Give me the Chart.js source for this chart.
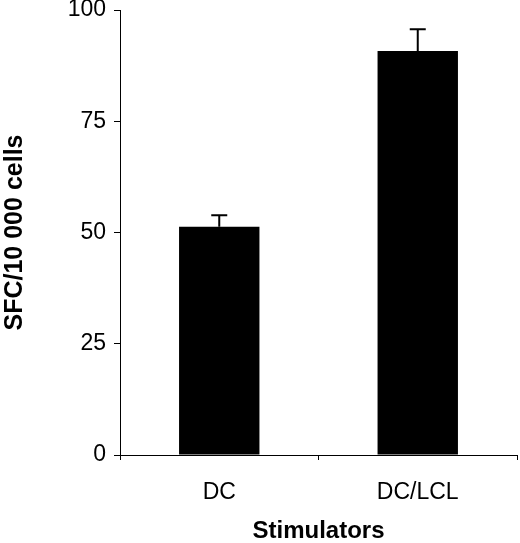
<!DOCTYPE html>
<html>
<head>
<meta charset="utf-8">
<script src="https://cdn.jsdelivr.net/npm/chart.js@4"></script>
<style>
html,body{margin:0;padding:0;background:#fff;}
#wrap{width:520px;height:543px;position:relative;}
</style>
</head>
<body>
<div id="wrap"><canvas id="c" width="520" height="543"></canvas></div>
<script>
const categories = ["DC", "DC/LCL"];
const values = [51.3, 90.8];
const errors = [2.6, 4.9];
const yTicks = [0, 25, 50, 75, 100];
const yTitle = "SFC/10 000 cells";
const xTitle = "Stimulators";

const errorBars = {
  id: 'errorBars',
  afterDatasetsDraw(chart) {
    const ctx = chart.ctx;
    const meta = chart.getDatasetMeta(0);
    const ys = chart.scales.y;
    ctx.save();
    ctx.strokeStyle = '#000';
    ctx.lineWidth = 2;
    meta.data.forEach((bar, i) => {
      const x = bar.x;
      const top = ys.getPixelForValue(values[i] + errors[i]);
      const base = ys.getPixelForValue(values[i]);
      ctx.beginPath();
      ctx.moveTo(x, base);
      ctx.lineTo(x, top);
      ctx.moveTo(x - 8, top);
      ctx.lineTo(x + 8, top);
      ctx.stroke();
    });
    ctx.restore();
  }
};

new Chart(document.getElementById('c'), {
  type: 'bar',
  data: {
    labels: categories,
    datasets: [{
      data: values,
      backgroundColor: '#000',
      borderWidth: 0,
      barPercentage: 0.405,
      categoryPercentage: 1.0
    }]
  },
  options: {
    responsive: false,
    animation: false,
    devicePixelRatio: 1,
    layout: { padding: { top: 10, right: 3, left: 0, bottom: 0 } },
    plugins: { legend: { display: false }, tooltip: { enabled: false } },
    scales: {
      x: {
        offset: true,
        grid: { display: true, offset: true, drawOnChartArea: false, drawTicks: true, tickLength: 5, color: '#000', lineWidth: 1 },
        border: { display: true, color: '#000', width: 1 },
        ticks: { color: '#000', font: { family: 'Liberation Sans, Arial', size: 23 }, padding: 19, maxRotation: 0 },
        title: { display: true, text: xTitle, color: '#000', font: { family: 'Liberation Sans, Arial', size: 24, weight: 'bold', lineHeight: 0.95 }, padding: { top: 10, bottom: 0 } },
        afterFit(scale) { scale.height = 88; scale.paddingLeft = 0; scale.paddingRight = 0; }
      },
      y: {
        min: 0, max: 100,
        afterBuildTicks(scale) { scale.ticks = yTicks.map(v => ({ value: v })); },
        grid: { display: true, drawOnChartArea: false, drawTicks: true, tickLength: 6, color: '#000', lineWidth: 1 },
        border: { display: true, color: '#000', width: 1 },
        ticks: { color: '#000', font: { family: 'Liberation Sans, Arial', size: 23 }, padding: 8 },
        title: { display: true, text: yTitle, color: '#000', font: { family: 'Liberation Sans, Arial', size: 25, weight: 'bold' }, padding: { top: 0, bottom: 0 } },
        afterFit(scale) { scale.width = 120; scale.paddingTop = 0; scale.paddingBottom = 0; }
      }
    }
  },
  plugins: [errorBars]
});
</script>
</body>
</html>
